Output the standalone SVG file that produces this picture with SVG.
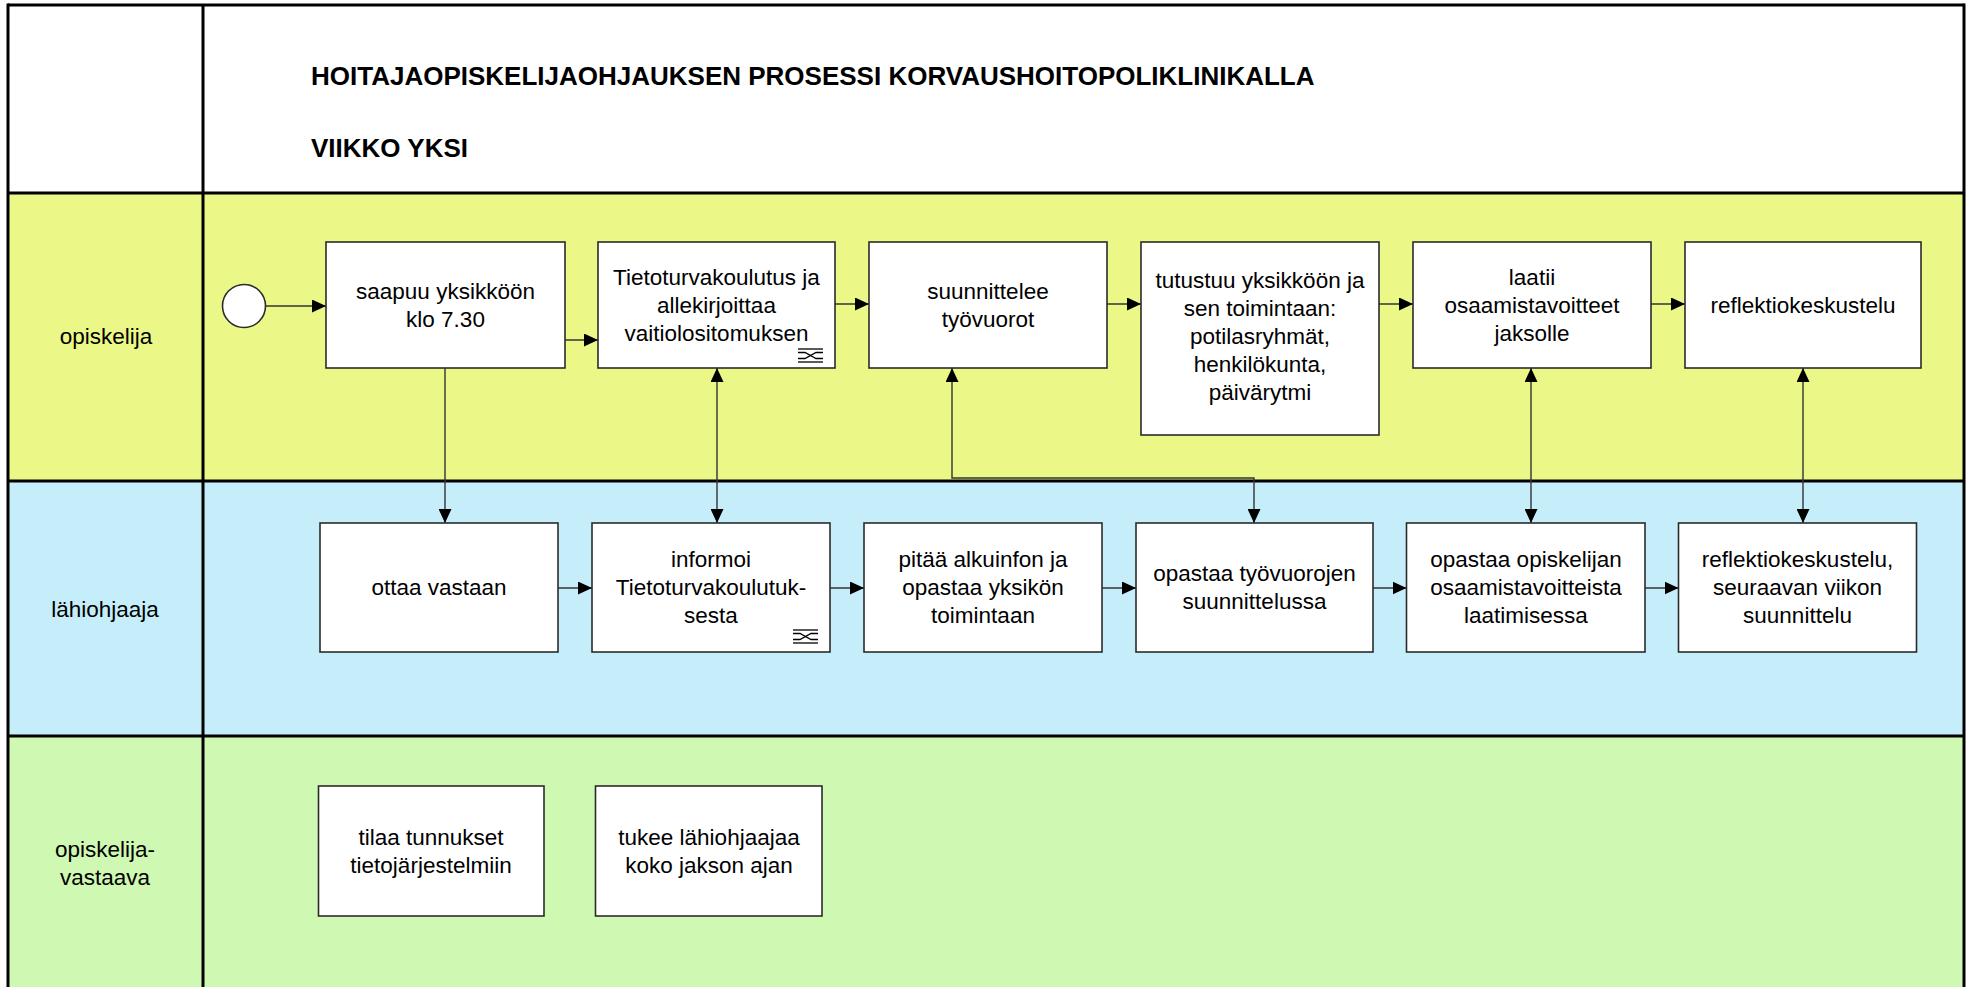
<svg xmlns="http://www.w3.org/2000/svg" width="1967" height="987" viewBox="0 0 1967 987">
<style>
.lane{stroke:#000;stroke-width:3}
.box{fill:#fff;stroke:#2b2b2b;stroke-width:1.6}
.t{font-family:"Liberation Sans",Arial,sans-serif;font-size:22.5px;fill:#000;text-anchor:middle}
.lbl{font-family:"Liberation Sans",Arial,sans-serif;font-size:22.5px;fill:#000;text-anchor:middle}
.title{font-family:"Liberation Sans",Arial,sans-serif;font-size:26px;font-weight:bold;fill:#000}
.c{fill:none;stroke:#333;stroke-width:1.4}
.ic{fill:none;stroke:#000;stroke-width:1.3}
</style>
<defs>
<marker id="ah" viewBox="0 0 14 13" markerWidth="14" markerHeight="13" refX="14" refY="6.5" orient="auto-start-reverse" markerUnits="userSpaceOnUse">
<path d="M0,0 L14,6.5 L0,13 z" fill="#000"/>
</marker>
</defs>
<g id="pool">
<rect x="0" y="0" width="1967" height="987" fill="#fff"/>
<rect x="8" y="5" width="1956" height="188" fill="#fff"/>
<rect x="8" y="193" width="1956" height="288" fill="#EBF887"/>
<rect x="8" y="481" width="1956" height="255" fill="#C5EEFA"/>
<rect x="8" y="736" width="1956" height="251" fill="#CFF9B2"/>
<line class="lane" x1="8" y1="5" x2="1964" y2="5"/>
<line class="lane" x1="8" y1="3.5" x2="8" y2="987"/>
<line class="lane" x1="1964" y1="3.5" x2="1964" y2="987"/>
<line class="lane" x1="203" y1="5" x2="203" y2="987"/>
<line class="lane" x1="8" y1="193" x2="1964" y2="193"/>
<line class="lane" x1="8" y1="481" x2="1964" y2="481"/>
<line class="lane" x1="8" y1="736" x2="1964" y2="736"/>
<text class="title" x="311" y="85">HOITAJAOPISKELIJAOHJAUKSEN PROSESSI KORVAUSHOITOPOLIKLINIKALLA</text>
<text class="title" x="311" y="157">VIIKKO YKSI</text>
<text class="lbl" x="106" y="344">opiskelija</text>
<text class="lbl" x="105" y="617">lähiohjaaja</text>
<text class="lbl" x="105" y="857">opiskelija-</text>
<text class="lbl" x="105" y="885">vastaava</text>
</g>
<g id="connectors">
<line class="c" x1="265.5" y1="306" x2="326" y2="306" marker-end="url(#ah)"/>
<line class="c" x1="565" y1="340" x2="598" y2="340" marker-end="url(#ah)"/>
<line class="c" x1="835" y1="304" x2="869" y2="304" marker-end="url(#ah)"/>
<line class="c" x1="1107" y1="304" x2="1141" y2="304" marker-end="url(#ah)"/>
<line class="c" x1="1379" y1="304" x2="1413" y2="304" marker-end="url(#ah)"/>
<line class="c" x1="1651" y1="304" x2="1685" y2="304" marker-end="url(#ah)"/>
<line class="c" x1="445" y1="368" x2="445" y2="523" marker-end="url(#ah)"/>
<line class="c" x1="717" y1="368" x2="717" y2="523" marker-start="url(#ah)" marker-end="url(#ah)"/>
<polyline class="c" points="952,368 952,478 1254,478 1254,523" marker-start="url(#ah)" marker-end="url(#ah)"/>
<line class="c" x1="1531" y1="368" x2="1531" y2="523" marker-start="url(#ah)" marker-end="url(#ah)"/>
<line class="c" x1="1803" y1="368" x2="1803" y2="523" marker-start="url(#ah)" marker-end="url(#ah)"/>
<line class="c" x1="558" y1="588" x2="592" y2="588" marker-end="url(#ah)"/>
<line class="c" x1="830" y1="588" x2="864" y2="588" marker-end="url(#ah)"/>
<line class="c" x1="1102" y1="588" x2="1136" y2="588" marker-end="url(#ah)"/>
<line class="c" x1="1373" y1="588" x2="1406.5" y2="588" marker-end="url(#ah)"/>
<line class="c" x1="1645" y1="588" x2="1678.5" y2="588" marker-end="url(#ah)"/>
</g>
<g id="start">
<circle cx="244" cy="306" r="21.5" fill="#fff" stroke="#2b2b2b" stroke-width="1.6"/>
</g>
<g id="n-saapuu">
<rect class="box" x="326" y="242" width="239" height="126"/>
<text class="t" x="445.5" y="299">saapuu yksikköön</text>
<text class="t" x="445.5" y="327">klo 7.30</text>
</g>
<g id="n-tietoturva">
<rect class="box" x="598" y="242" width="237" height="126"/>
<text class="t" x="716.5" y="285">Tietoturvakoulutus ja</text>
<text class="t" x="716.5" y="313">allekirjoittaa</text>
<text class="t" x="716.5" y="341">vaitiolositomuksen</text>
<g class="ic">
<line x1="798" y1="349" x2="823" y2="349"/>
<line x1="798" y1="362" x2="823" y2="362"/>
<polyline points="798,352.5 805,352.5 816,358.5 823,358.5"/>
<polyline points="798,358.5 805,358.5 816,352.5 823,352.5"/>
</g>
</g>
<g id="n-suunnittelee">
<rect class="box" x="869" y="242" width="238" height="126"/>
<text class="t" x="988" y="299">suunnittelee</text>
<text class="t" x="988" y="327">työvuorot</text>
</g>
<g id="n-tutustuu">
<rect class="box" x="1141" y="242" width="238" height="193"/>
<text class="t" x="1260" y="288">tutustuu yksikköön ja</text>
<text class="t" x="1260" y="316">sen toimintaan:</text>
<text class="t" x="1260" y="344">potilasryhmät,</text>
<text class="t" x="1260" y="372">henkilökunta,</text>
<text class="t" x="1260" y="400">päivärytmi</text>
</g>
<g id="n-laatii">
<rect class="box" x="1413" y="242" width="238" height="126"/>
<text class="t" x="1532" y="285">laatii</text>
<text class="t" x="1532" y="313">osaamistavoitteet</text>
<text class="t" x="1532" y="341">jaksolle</text>
</g>
<g id="n-reflektio1">
<rect class="box" x="1685" y="242" width="236" height="126"/>
<text class="t" x="1803" y="313">reflektiokeskustelu</text>
</g>
<g id="n-ottaa">
<rect class="box" x="320" y="523" width="238" height="129"/>
<text class="t" x="439" y="595">ottaa vastaan</text>
</g>
<g id="n-informoi">
<rect class="box" x="592" y="523" width="238" height="129"/>
<text class="t" x="711" y="567">informoi</text>
<text class="t" x="711" y="595">Tietoturvakoulutuk-</text>
<text class="t" x="711" y="623">sesta</text>
<g class="ic">
<line x1="793" y1="630" x2="818" y2="630"/>
<line x1="793" y1="643" x2="818" y2="643"/>
<polyline points="793,633.5 800,633.5 811,639.5 818,639.5"/>
<polyline points="793,639.5 800,639.5 811,633.5 818,633.5"/>
</g>
</g>
<g id="n-pitaa">
<rect class="box" x="864" y="523" width="238" height="129"/>
<text class="t" x="983" y="567">pitää alkuinfon ja</text>
<text class="t" x="983" y="595">opastaa yksikön</text>
<text class="t" x="983" y="623">toimintaan</text>
</g>
<g id="n-opastaa-tyovuorot">
<rect class="box" x="1136" y="523" width="237" height="129"/>
<text class="t" x="1254.5" y="581">opastaa työvuorojen</text>
<text class="t" x="1254.5" y="609">suunnittelussa</text>
</g>
<g id="n-opastaa-opiskelijan">
<rect class="box" x="1406.5" y="523" width="238.5" height="129"/>
<text class="t" x="1526" y="567">opastaa opiskelijan</text>
<text class="t" x="1526" y="595">osaamistavoitteista</text>
<text class="t" x="1526" y="623">laatimisessa</text>
</g>
<g id="n-reflektio2">
<rect class="box" x="1678.5" y="523" width="238" height="129"/>
<text class="t" x="1797.5" y="567">reflektiokeskustelu,</text>
<text class="t" x="1797.5" y="595">seuraavan viikon</text>
<text class="t" x="1797.5" y="623">suunnittelu</text>
</g>
<g id="n-tilaa">
<rect class="box" x="318.5" y="786" width="225.5" height="130"/>
<text class="t" x="431" y="845">tilaa tunnukset</text>
<text class="t" x="431" y="873">tietojärjestelmiin</text>
</g>
<g id="n-tukee">
<rect class="box" x="595.5" y="786" width="226.5" height="130"/>
<text class="t" x="709" y="845">tukee lähiohjaajaa</text>
<text class="t" x="709" y="873">koko jakson ajan</text>
</g>
</svg>
